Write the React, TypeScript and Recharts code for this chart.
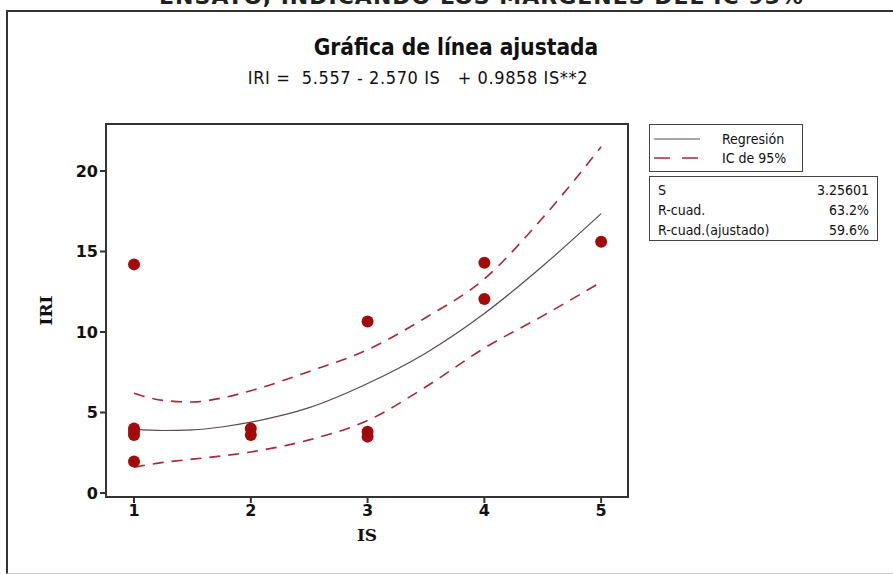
import { ComposedChart, Line, Scatter, XAxis, YAxis, ReferenceArea } from 'recharts';

// observed points (IS, IRI)
const pointIS = [1, 1, 1, 1, 1, 2, 2, 3, 3, 3, 4, 4, 5];
const pointIRI = [14.2, 4.0, 3.8, 3.6, 1.95, 4.0, 3.6, 10.65, 3.8, 3.5, 14.3, 12.05, 15.6];

// fitted curve and 95% band
const curveIS = [1, 1.25, 1.5, 1.75, 2, 2.5, 3, 3.5, 4, 4.5, 5];
const fitIRI = [3.97, 3.88, 3.92, 4.1, 4.4, 5.3, 6.8, 8.7, 11.15, 14.1, 17.35];
const upperIRI = [6.2, 5.75, 5.65, 5.9, 6.35, 7.55, 8.9, 10.9, 13.3, 17.1, 21.5];
const lowerIRI = [1.6, 1.9, 2.1, 2.3, 2.55, 3.3, 4.5, 6.6, 9.0, 11.0, 13.1];

const xTicks = [1, 2, 3, 4, 5];
const yTicks = [0, 5, 10, 15, 20];

const statLabels = ['S', 'R-cuad.', 'R-cuad.(ajustado)'];
const statValues = ['3.25601', '63.2%', '59.6%'];

const points = pointIS.map((x, i) => ({ x, y: pointIRI[i] }));
const curve = curveIS.map((x, i) => ({ x, fit: fitIRI[i], upper: upperIRI[i], lower: lowerIRI[i] }));

const X_DOMAIN = [0.76, 5.23];
const Y_DOMAIN = [-0.25, 22.92];

const RED = '#a50a0a';
const BAND = '#a8283a';
const tickFont = { fontFamily: 'DejaVu Sans', fontSize: 16, fontWeight: 'bold', fill: '#111' };

const Dot = (props: any) => <circle cx={props.cx} cy={props.cy} r={6} fill={RED} />;

export default function App() {
  return (
    <div style={{ position: 'absolute', left: 0, top: 0, width: 893, height: 574, background: '#fff', overflow: 'hidden' }}>
      <div
        style={{
          position: 'absolute', left: 70, width: 823, top: -16, textAlign: 'center',
          fontFamily: 'DejaVu Sans', fontWeight: 'bold', fontSize: 22, color: '#222', letterSpacing: 1,
        }}
      >
        ENSAYO, INDICANDO LOS MÁRGENES DEL IC 95%
      </div>
      <div
        style={{
          position: 'absolute', left: 6, top: 10, width: 900, height: 561,
          borderLeft: '2px solid #333', borderTop: '2px solid #333', borderBottom: '1px solid #ccc',
        }}
      />
      <div
        style={{
          position: 'absolute', left: 0, width: 912, top: 34, textAlign: 'center',
          fontFamily: 'DejaVu Sans Condensed', fontWeight: 'bold', fontSize: 22.5, color: '#111',
        }}
      >
        Gráfica de línea ajustada
      </div>
      <div
        style={{
          position: 'absolute', left: 0, width: 836, top: 67, textAlign: 'center', whiteSpace: 'pre',
          fontFamily: 'DejaVu Sans Condensed', fontSize: 18, letterSpacing: 0.6, color: '#111',
        }}
      >
        {'IRI =  5.557 - 2.570 IS   + 0.9858 IS**2'}
      </div>

      <div style={{ position: 'absolute', left: 0, top: 0 }}>
        <ComposedChart width={893} height={574} margin={{ top: 124, right: 265, bottom: 47, left: 66 }}>
          <XAxis
            type="number"
            dataKey="x"
            domain={X_DOMAIN}
            ticks={xTicks}
            allowDataOverflow
            stroke="#333"
            strokeWidth={2}
            tickSize={6}
            tick={tickFont}
            height={30}
            label={{ value: 'IS', position: 'insideBottom', offset: -14, style: { fontFamily: 'DejaVu Serif', fontWeight: 'bold', fontSize: 17, fill: '#111' } }}
          />
          <YAxis
            type="number"
            domain={Y_DOMAIN}
            ticks={yTicks}
            allowDataOverflow
            stroke="#333"
            strokeWidth={2}
            tickSize={6}
            tick={tickFont}
            width={40}
            label={{ value: 'IRI', angle: -90, position: 'insideLeft', offset: -20, style: { fontFamily: 'DejaVu Serif', fontWeight: 'bold', fontSize: 17, fill: '#111', textAnchor: 'middle' } }}
          />
          <ReferenceArea x1={X_DOMAIN[0]} x2={X_DOMAIN[1]} y1={Y_DOMAIN[0]} y2={Y_DOMAIN[1]} fill="none" stroke="#333" strokeWidth={2} />
          <Line data={curve} dataKey="upper" type="monotone" stroke={BAND} strokeWidth={1.6} strokeDasharray="11 8" dot={false} isAnimationActive={false} />
          <Line data={curve} dataKey="lower" type="monotone" stroke={BAND} strokeWidth={1.6} strokeDasharray="11 8" dot={false} isAnimationActive={false} />
          <Line data={curve} dataKey="fit" type="monotone" stroke="#5a4a55" strokeWidth={1.2} dot={false} isAnimationActive={false} />
          <Scatter data={points} dataKey="y" shape={<Dot />} isAnimationActive={false} />
        </ComposedChart>
      </div>

      <div
        style={{
          position: 'absolute', left: 649, top: 124, width: 152, height: 46, border: '1px solid #444', background: '#fff',
          fontFamily: 'DejaVu Sans Condensed', fontSize: 14, color: '#111',
        }}
      >
        <div style={{ position: 'absolute', left: 4, top: 6, display: 'flex', alignItems: 'center' }}>
          <svg width={46} height={4}><line x1={0} y1={2} x2={46} y2={2} stroke="#5a4a55" strokeWidth={1.2} /></svg>
          <span style={{ marginLeft: 22 }}>Regresión</span>
        </div>
        <div style={{ position: 'absolute', left: 4, top: 25, display: 'flex', alignItems: 'center' }}>
          <svg width={46} height={4}><line x1={0} y1={2} x2={46} y2={2} stroke={BAND} strokeWidth={1.6} strokeDasharray="16 12" /></svg>
          <span style={{ marginLeft: 22 }}>IC de 95%</span>
        </div>
      </div>

      <div
        style={{
          position: 'absolute', left: 649, top: 176, width: 229, height: 65, border: '1px solid #444', background: '#fff',
          fontFamily: 'DejaVu Sans Condensed', fontSize: 14, color: '#111', padding: '3px 8px 0 8px', boxSizing: 'border-box',
        }}
      >
        {statLabels.map((s, i) => (
          <div key={s} style={{ display: 'flex', justifyContent: 'space-between', height: 20, lineHeight: '20px' }}>
            <span>{s}</span>
            <span>{statValues[i]}</span>
          </div>
        ))}
      </div>
    </div>
  );
}
